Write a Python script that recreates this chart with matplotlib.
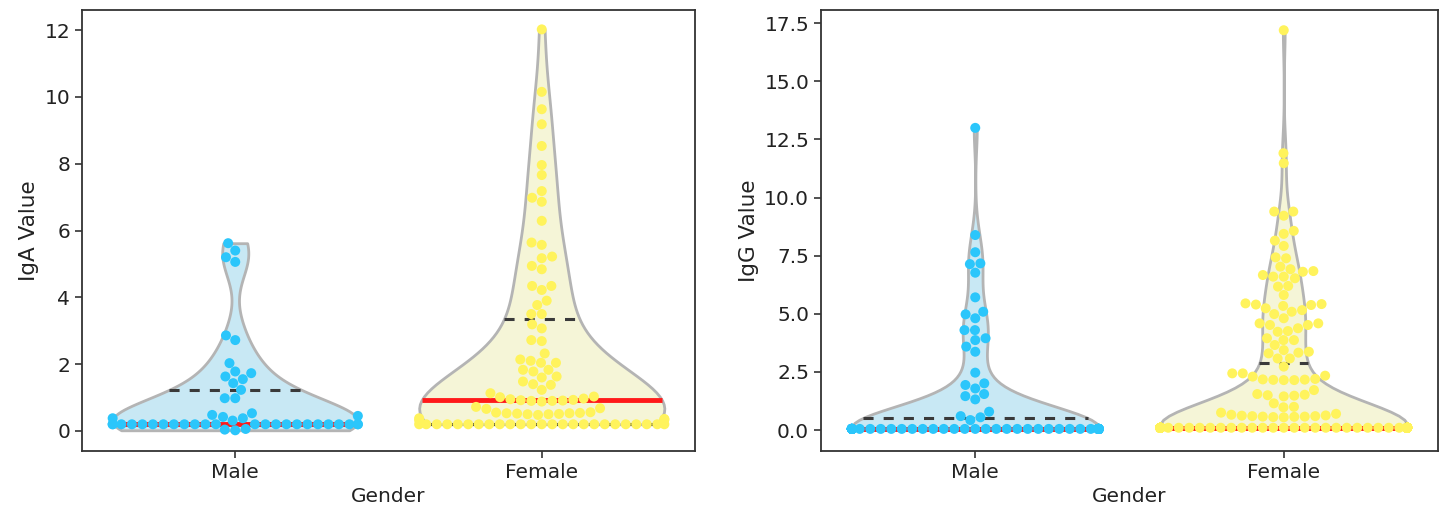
import warnings
warnings.filterwarnings("ignore")
import numpy as np
import pandas as pd
import matplotlib
matplotlib.use("Agg")
import matplotlib.pyplot as plt
import seaborn as sns

# ---------------- data ----------------
GENDERS = ["Male", "Female"]

iga_male = [5.62, 5.40, 5.20, 5.06, 2.86, 2.72, 2.03, 1.78, 1.73, 1.63, 1.55,
            1.43, 1.23, 0.98, 0.98, 0.53, 0.48, 0.45, 0.42, 0.38, 0.38, 0.31] \
           + [0.2] * 24 + [0.02, 0.04, 0.06]

iga_female = [12.02, 10.15, 9.63, 9.18, 8.53, 7.96, 7.66, 7.18, 6.98, 6.86,
              6.29, 5.64, 5.57, 5.22, 5.17, 4.94, 4.84, 4.34, 4.34, 4.22,
              3.90, 3.77, 3.50, 3.50, 3.19, 3.07, 2.72, 2.69, 2.32, 2.14,
              2.10, 2.04, 2.04, 1.83, 1.83, 1.78, 1.63, 1.60, 1.48, 1.40,
              1.38, 1.23, 1.13, 1.03, 1.01,
              0.97, 0.95, 0.93, 0.92, 0.91, 0.90, 0.90, 0.88,
              0.72, 0.68, 0.66,
              0.56, 0.55, 0.54, 0.53, 0.53, 0.52, 0.51, 0.50, 0.50, 0.48,
              0.38, 0.36, 0.34, 0.32] + [0.2] * 25

igg_male = [13.0, 8.39, 7.65, 7.17, 7.14, 6.77, 5.71, 5.09, 4.98, 4.81, 4.30,
            4.30, 3.95, 3.87, 3.59, 3.37, 2.47, 2.01, 1.94, 1.79, 1.55, 1.46,
            1.32, 0.79, 0.60, 0.55, 0.43] + [0.05] * 75

igg_female = [17.2, 11.91, 11.48, 9.40, 9.40, 9.22, 8.57, 8.44, 8.15, 7.92,
              7.43, 7.39, 7.03, 6.92, 6.84, 6.81, 6.67, 6.60, 6.60, 6.53,
              6.20, 6.17, 5.81, 5.45, 5.42, 5.40, 5.38, 5.34, 5.24, 5.16,
              5.09, 4.99, 4.81, 4.59, 4.59, 4.52, 4.52, 4.38, 4.26, 4.23,
              3.95, 3.87, 3.87, 3.66, 3.44, 3.37, 3.33, 3.30, 3.08, 3.08,
              2.73, 2.44, 2.44, 2.34, 2.30, 2.20, 2.18, 2.17, 2.16, 2.15,
              2.15, 1.72, 1.55, 1.52, 1.50, 1.48, 1.45, 1.15, 1.00, 0.98,
              0.75, 0.70, 0.66, 0.63, 0.62, 0.60, 0.60, 0.58, 0.58, 0.57,
              0.56, 0.55] + [0.1] * 117

panels = [("IgA Value", iga_male, iga_female),
          ("IgG Value", igg_male, igg_female)]

# ---------------- style ----------------
FILL = ["#c8e8f4", "#f5f5d7"]
POINT = ["#2bc6fb", "#fff35c"]
EDGE = "#b4b4b4"
FS = 14.5

plt.rcParams.update({
    "font.size": FS,
    "axes.linewidth": 1.3,
    "axes.edgecolor": "#333333",
    "xtick.color": "#333333",
    "ytick.color": "#333333",
    "xtick.labelcolor": "#222222",
    "ytick.labelcolor": "#222222",
    "axes.labelcolor": "#222222",
})

fig = plt.figure(figsize=(14.43, 5.14), dpi=100)
positions = [[82 / 1443, 63 / 514, 613 / 1443, 441 / 514],
             [821 / 1443, 63 / 514, 617 / 1443, 441 / 514]]
ylims = [(-0.6, 12.6), (-0.9, 18.07)]

for (ylabel, male, female), pos, ylim in zip(panels, positions, ylims):
    ax = fig.add_axes(pos)
    df = pd.DataFrame({
        "Gender": ["Male"] * len(male) + ["Female"] * len(female),
        "value": list(male) + list(female),
    })
    try:
        sns.violinplot(data=df, x="Gender", y="value", hue="Gender",
                       order=GENDERS, hue_order=GENDERS, palette=FILL,
                       inner=None, cut=0, density_norm="width",
                       saturation=1, linewidth=2, linecolor=EDGE,
                       legend=False, ax=ax)
    except TypeError:
        sns.violinplot(data=df, x="Gender", y="value", order=GENDERS,
                       palette=FILL, inner=None, cut=0, scale="width",
                       saturation=1, linewidth=2, ax=ax)
    violins = list(ax.collections)
    for coll in violins:
        coll.set_edgecolor(EDGE)
        coll.set_linewidth(2)

    # quartile lines spanning the violin width
    for coll in violins:
        verts = coll.get_paths()[0].vertices
        center = round(float(np.mean(verts[:, 0])))
        vals = np.asarray(male if center == 0 else female)
        right = verts[verts[:, 0] > center]
        order = np.argsort(right[:, 1])
        ys, xs = right[order, 1], right[order, 0]
        q1, q2, q3 = np.percentile(vals, [25, 50, 75])
        for q, is_med in ((q1, False), (q3, False), (q2, True)):
            hw = np.interp(q, ys, xs) - center
            if is_med:
                ax.plot([center - hw, center + hw], [q, q], color="#ff1a1a",
                        lw=3.5, solid_capstyle="butt", zorder=2)
            else:
                ax.plot([center - hw, center + hw], [q, q], color="#3a3a3a",
                        lw=2.2, linestyle=(0, (3.3, 3.3)), zorder=2)

    try:
        sns.swarmplot(data=df, x="Gender", y="value", hue="Gender",
                      order=GENDERS, hue_order=GENDERS, palette=POINT,
                      size=7.2, linewidth=0, legend=False, zorder=3, ax=ax)
    except TypeError:
        sns.swarmplot(data=df, x="Gender", y="value", order=GENDERS,
                      palette=POINT, size=7.2, linewidth=0, zorder=3, ax=ax)

    ax.set_xlim(-0.5, 1.5)
    ax.set_ylim(*ylim)
    ax.set_xlabel("Gender", fontsize=FS)
    ax.set_ylabel(ylabel, fontsize=15.5)
    ax.tick_params(labelsize=FS, width=1.2, length=5)

fig.savefig("out.png", dpi=100)
